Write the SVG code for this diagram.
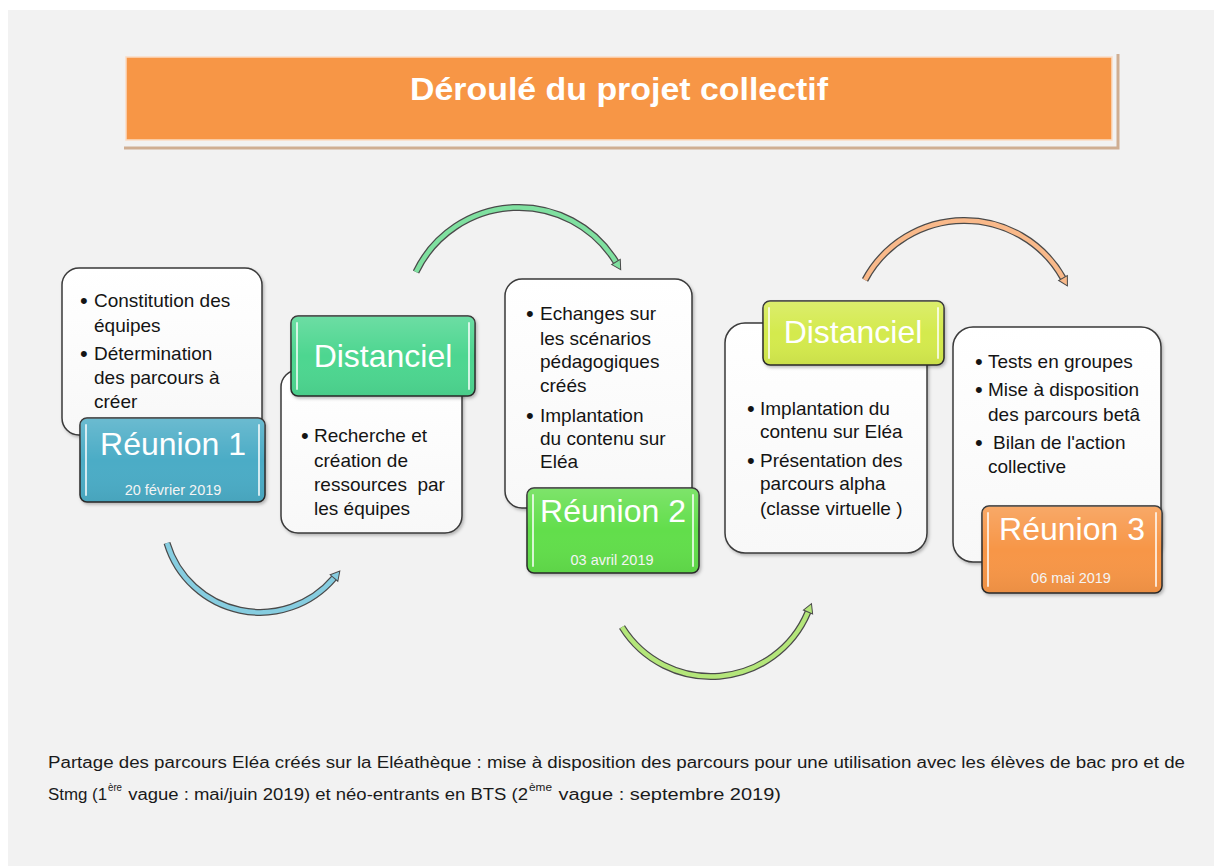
<svg xmlns="http://www.w3.org/2000/svg" width="1214" height="866" viewBox="0 0 1214 866">
  <defs>
    <style>
      .body { font-family: "Liberation Sans", Arial, sans-serif; font-size: 19px; fill: #141414; }
      .bul { font-family: "Liberation Sans", Arial, sans-serif; font-size: 22px; fill: #141414; }
      .head { font-family: "Liberation Sans", Arial, sans-serif; font-size: 32px; fill: #ffffff; text-anchor: middle; }
      .date { font-family: "Liberation Sans", Arial, sans-serif; font-size: 14.5px; fill: #f4f4f4; text-anchor: middle; }
      .note { font-family: "Liberation Sans", Arial, sans-serif; font-size: 16px; fill: #1a1a1a; }
      .sup { font-size: 10px; }
      .card { fill: url(#cardGrad); stroke: #3a3a3a; stroke-width: 1.5; filter: url(#shadow); }
      .tag { stroke: #2a2a2a; stroke-width: 1.5; filter: url(#shadow); }
      .gloss { stroke: #ffffff; stroke-opacity: 0.75; stroke-width: 2; stroke-linecap: round; }
      .arcOut { fill: none; stroke: #4a4a4a; stroke-width: 7; stroke-linecap: butt; }
      .arcIn { fill: none; stroke-width: 4.5; stroke-linecap: butt; }
    </style>
    <linearGradient id="cardGrad" x1="0" y1="0" x2="0" y2="1">
      <stop offset="0" stop-color="#ffffff"/>
      <stop offset="1" stop-color="#f8f8f8"/>
    </linearGradient>
    <linearGradient id="glossGrad" x1="0" y1="0" x2="0" y2="1">
      <stop offset="0" stop-color="#ffffff" stop-opacity="0.18"/>
      <stop offset="0.5" stop-color="#ffffff" stop-opacity="0"/>
      <stop offset="1" stop-color="#000000" stop-opacity="0.05"/>
    </linearGradient>
    <filter id="shadow" x="-10%" y="-10%" width="125%" height="125%">
      <feDropShadow dx="1.5" dy="2" stdDeviation="1.5" flood-color="#000000" flood-opacity="0.25"/>
    </filter>
    <marker id="mBlue" markerUnits="userSpaceOnUse" markerWidth="14" markerHeight="16" viewBox="-2 -8 14 16" refX="0" refY="0" orient="auto" overflow="visible">
      <path d="M0,-5 L9,0 L0,5 z" fill="#86cde0" stroke="#4a4a4a" stroke-width="1"/>
    </marker>
    <marker id="mGreen" markerUnits="userSpaceOnUse" markerWidth="14" markerHeight="16" viewBox="-2 -8 14 16" refX="0" refY="0" orient="auto" overflow="visible">
      <path d="M0,-5 L9,0 L0,5 z" fill="#7fe0a0" stroke="#4a4a4a" stroke-width="1"/>
    </marker>
    <marker id="mLime" markerUnits="userSpaceOnUse" markerWidth="14" markerHeight="16" viewBox="-2 -8 14 16" refX="0" refY="0" orient="auto" overflow="visible">
      <path d="M0,-5 L9,0 L0,5 z" fill="#b4e67a" stroke="#4a4a4a" stroke-width="1"/>
    </marker>
    <marker id="mPeach" markerUnits="userSpaceOnUse" markerWidth="14" markerHeight="16" viewBox="-2 -8 14 16" refX="0" refY="0" orient="auto" overflow="visible">
      <path d="M0,-5 L9,0 L0,5 z" fill="#f9b98a" stroke="#4a4a4a" stroke-width="1"/>
    </marker>
  </defs>

  <!-- background -->
  <rect x="0" y="0" width="1214" height="866" fill="#ffffff"/>
  <rect x="8" y="10" width="1206" height="856" fill="#f2f2f2"/>

  <!-- title banner -->
  <g id="title">
    <polyline points="124,148 1118,148 1118,54" fill="none" stroke="#cfae92" stroke-width="3"/>
    <rect x="126" y="57" width="986" height="83" fill="#f79646" stroke="#fbdcc3" stroke-width="1.5"/>
    <text x="619" y="100" font-family="'Liberation Sans', Arial, sans-serif" font-size="32" font-weight="bold" fill="#ffffff" text-anchor="middle" textLength="418" lengthAdjust="spacingAndGlyphs">Déroulé du projet collectif</text>
  </g>

  <!-- connectors -->
  <g id="connectors">
    <path class="arcOut" d="M167,543 A97,97 0 0 0 334,578"/>
    <path class="arcIn" stroke="#86cde0" d="M167,543 A97,97 0 0 0 334,578" marker-end="url(#mBlue)"/>

    <path class="arcOut" d="M416,272 A114,114 0 0 1 616,262"/>
    <path class="arcIn" stroke="#7fe0a0" d="M416,272 A114,114 0 0 1 616,262" marker-end="url(#mGreen)"/>

    <path class="arcOut" d="M622,627 A105,105 0 0 0 808,612"/>
    <path class="arcIn" stroke="#b4e67a" d="M622,627 A105,105 0 0 0 808,612" marker-end="url(#mLime)"/>

    <path class="arcOut" d="M865,280 A113,113 0 0 1 1063,278"/>
    <path class="arcIn" stroke="#f9b98a" d="M865,280 A113,113 0 0 1 1063,278" marker-end="url(#mPeach)"/>
  </g>

  <!-- Réunion 1 -->
  <g id="reunion1">
    <rect class="card" x="62" y="268" width="200" height="167" rx="17"/>
    <text class="bul" x="80" y="308">•</text>
    <text class="body" x="94" y="307">Constitution des</text>
    <text class="body" x="94" y="332">équipes</text>
    <text class="bul" x="80" y="361">•</text>
    <text class="body" x="94" y="360">Détermination</text>
    <text class="body" x="94" y="384">des parcours à</text>
    <text class="body" x="94" y="408">créer</text>
    <rect class="tag" x="80" y="418" width="185" height="84" rx="7" fill="#4bacc6"/>
    <rect x="80" y="418" width="185" height="84" rx="7" fill="url(#glossGrad)"/>
    <line class="gloss" x1="86" y1="425" x2="86" y2="495"/>
    <line class="gloss" x1="259" y1="425" x2="259" y2="495"/>
    <text class="head" x="173" y="455">Réunion 1</text>
    <text class="date" x="173" y="495">20 février 2019</text>
  </g>

  <!-- Distanciel 1 -->
  <g id="distanciel1">
    <rect class="card" x="281" y="370" width="181" height="163" rx="17"/>
    <text class="bul" x="301" y="443">•</text>
    <text class="body" x="314" y="442">Recherche et</text>
    <text class="body" x="314" y="467">création de</text>
    <text class="body" x="314" y="491" xml:space="preserve">ressources  par</text>
    <text class="body" x="314" y="515">les équipes</text>
    <rect class="tag" x="291" y="316" width="184" height="80" rx="7" fill="#4ed690"/>
    <rect x="291" y="316" width="184" height="80" rx="7" fill="url(#glossGrad)"/>
    <line class="gloss" x1="297" y1="323" x2="297" y2="389"/>
    <line class="gloss" x1="469" y1="323" x2="469" y2="389"/>
    <text class="head" x="383" y="367">Distanciel</text>
  </g>

  <!-- Réunion 2 -->
  <g id="reunion2">
    <rect class="card" x="505" y="279" width="187" height="229" rx="17"/>
    <text class="bul" x="526" y="321">•</text>
    <text class="body" x="540" y="320">Echanges sur</text>
    <text class="body" x="540" y="345">les scénarios</text>
    <text class="body" x="540" y="368">pédagogiques</text>
    <text class="body" x="540" y="392">créés</text>
    <text class="bul" x="526" y="423">•</text>
    <text class="body" x="540" y="422">Implantation</text>
    <text class="body" x="540" y="445">du contenu sur</text>
    <text class="body" x="540" y="468">Eléa</text>
    <rect class="tag" x="527" y="488" width="172" height="85" rx="7" fill="#62de4b"/>
    <rect x="527" y="488" width="172" height="85" rx="7" fill="url(#glossGrad)"/>
    <line class="gloss" x1="533" y1="495" x2="533" y2="566"/>
    <line class="gloss" x1="693" y1="495" x2="693" y2="566"/>
    <text class="head" x="613" y="522">Réunion 2</text>
    <text class="date" x="612" y="565">03 avril 2019</text>
  </g>

  <!-- Distanciel 2 -->
  <g id="distanciel2">
    <rect class="card" x="725" y="323" width="202" height="230" rx="20"/>
    <text class="bul" x="747" y="416">•</text>
    <text class="body" x="760" y="415">Implantation du</text>
    <text class="body" x="760" y="438">contenu sur Eléa</text>
    <text class="bul" x="747" y="468">•</text>
    <text class="body" x="760" y="467">Présentation des</text>
    <text class="body" x="760" y="490">parcours alpha</text>
    <text class="body" x="760" y="515">(classe virtuelle )</text>
    <rect class="tag" x="763" y="301" width="181" height="64" rx="7" fill="#d4ea4e"/>
    <rect x="763" y="301" width="181" height="64" rx="7" fill="url(#glossGrad)"/>
    <line class="gloss" x1="769" y1="308" x2="769" y2="358"/>
    <line class="gloss" x1="938" y1="308" x2="938" y2="358"/>
    <text class="head" x="853" y="343">Distanciel</text>
  </g>

  <!-- Réunion 3 -->
  <g id="reunion3">
    <rect class="card" x="953" y="327" width="208" height="235" rx="20"/>
    <text class="bul" x="975" y="369">•</text>
    <text class="body" x="988" y="368">Tests en groupes</text>
    <text class="bul" x="975" y="397">•</text>
    <text class="body" x="988" y="396">Mise à disposition</text>
    <text class="body" x="988" y="421">des parcours betâ</text>
    <text class="bul" x="975" y="450">•</text>
    <text class="body" x="993" y="449">Bilan de l'action</text>
    <text class="body" x="988" y="473">collective</text>
    <rect class="tag" x="982" y="506" width="180" height="87" rx="7" fill="#f79646"/>
    <rect x="982" y="506" width="180" height="87" rx="7" fill="url(#glossGrad)"/>
    <line class="gloss" x1="988" y1="513" x2="988" y2="586"/>
    <line class="gloss" x1="1156" y1="513" x2="1156" y2="586"/>
    <text class="head" x="1072" y="540">Réunion 3</text>
    <text class="date" x="1071" y="583">06 mai 2019</text>
  </g>

  <!-- bottom note -->
  <g id="note">
    <text class="note" x="48" y="768" textLength="1137" lengthAdjust="spacingAndGlyphs">Partage des parcours Eléa créés sur la Eléathèque : mise à disposition des parcours pour une utilisation avec les élèves de bac pro et de</text>
    <text class="note" x="48" y="800" textLength="59" lengthAdjust="spacingAndGlyphs">Stmg (1</text>
    <text class="note sup" x="108" y="791" textLength="14" lengthAdjust="spacingAndGlyphs">ère</text>
    <text class="note" x="123" y="800" textLength="405" lengthAdjust="spacingAndGlyphs" xml:space="preserve"> vague : mai/juin 2019) et néo-entrants en BTS (2</text>
    <text class="note sup" x="529" y="791" textLength="23" lengthAdjust="spacingAndGlyphs">ème</text>
    <text class="note" x="553" y="800" textLength="228" lengthAdjust="spacingAndGlyphs" xml:space="preserve"> vague : septembre 2019)</text>
  </g>
</svg>
